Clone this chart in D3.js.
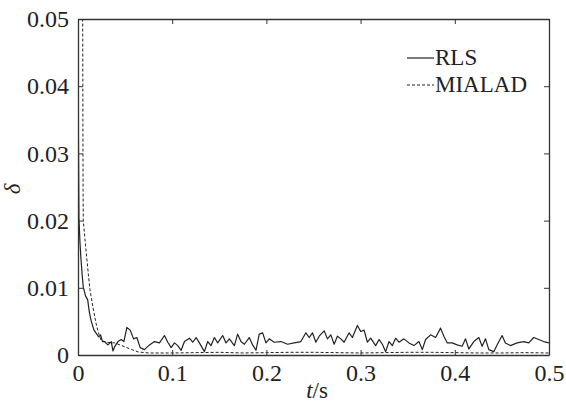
<!DOCTYPE html>
<html>
<head>
<meta charset="utf-8">
<script src="https://cdn.jsdelivr.net/npm/d3@7"></script>
<style>
  body { margin: 0; background: #fff; }
  svg { display: block; }
  text { font-family: "Liberation Serif", "Times New Roman", serif; fill: #222; }
</style>
</head>
<body>
<svg id="chart" width="566" height="403"></svg>
<script>
// tick labels
var xTicks = [0, 0.1, 0.2, 0.3, 0.4, 0.5];
var yTicks = [0, 0.01, 0.02, 0.03, 0.04, 0.05];

// RLS curve (t in s, delta)
var rlsT = [0, 0.0005, 0.001, 0.002, 0.003, 0.0045, 0.0056, 0.008, 0.0103, 0.012, 0.0138, 0.015, 0.017, 0.019, 0.022, 0.024, 0.026,
  0.028, 0.0318, 0.0353, 0.0371, 0.0388, 0.0424, 0.0459, 0.0487, 0.0519, 0.0554, 0.059, 0.0625, 0.066, 0.0706, 0.0759, 0.0812, 0.0865,
  0.0918, 0.0953, 0.0989, 0.1024, 0.1059, 0.1095, 0.113, 0.1183, 0.1218, 0.1254, 0.1289, 0.1342, 0.1377, 0.1412, 0.1448, 0.1483,
  0.1536, 0.1571, 0.1607, 0.166, 0.1695, 0.173, 0.1766, 0.1818, 0.1854, 0.1889, 0.1924, 0.196, 0.1995, 0.203, 0.2083, 0.2154,
  0.2225, 0.2295, 0.2366, 0.2419, 0.2454, 0.2489, 0.2525, 0.256, 0.2613, 0.2648, 0.2684, 0.2719, 0.2754, 0.279, 0.2825, 0.2878,
  0.2913, 0.2966, 0.3001, 0.3037, 0.3072, 0.3107, 0.316, 0.3196, 0.3231, 0.3266, 0.3302, 0.3337, 0.3372, 0.3407, 0.346, 0.3513,
  0.3566, 0.3619, 0.3655, 0.369, 0.3743, 0.3796, 0.3849, 0.3884, 0.392, 0.3972, 0.4025, 0.4078, 0.4114, 0.4149, 0.4202, 0.4255,
  0.429, 0.4326, 0.4361, 0.4414, 0.4449, 0.4502, 0.4537, 0.459, 0.4661, 0.4732, 0.4785, 0.4838, 0.489, 0.4944, 0.5];
var rlsV = [0.062, 0.032, 0.0205, 0.017, 0.0146, 0.0118, 0.0101, 0.0088, 0.0082, 0.0064, 0.0052, 0.0046, 0.0037, 0.0033, 0.0027, 0.0030, 0.0020,
  0.0020, 0.0015, 0.0020, 0.0006, 0.0012, 0.0020, 0.0023, 0.0020, 0.0041, 0.0037, 0.0024, 0.0026, 0.0011, 0.0008, 0.0015, 0.0020, 0.0018,
  0.0029, 0.0019, 0.0011, 0.0018, 0.0014, 0.0007, 0.0020, 0.0025, 0.0019, 0.0026, 0.0018, 0.0005, 0.0020, 0.0014, 0.0026, 0.0018,
  0.0029, 0.0018, 0.0024, 0.0014, 0.0031, 0.0020, 0.0016, 0.0026, 0.0015, 0.0007, 0.0031, 0.0033, 0.0018, 0.0024, 0.0019, 0.0020,
  0.0016, 0.0018, 0.0020, 0.0033, 0.0026, 0.0033, 0.0019, 0.0028, 0.0036, 0.0024, 0.0030, 0.0016, 0.0028, 0.0024, 0.0019, 0.0033,
  0.0026, 0.0044, 0.0035, 0.0037, 0.0019, 0.0025, 0.0014, 0.0023, 0.0016, 0.0005, 0.0020, 0.0014, 0.0025, 0.0019, 0.0024, 0.0018,
  0.0014, 0.0020, 0.0008, 0.0023, 0.0030, 0.0026, 0.0040, 0.0028, 0.0018, 0.0018, 0.0015, 0.0013, 0.0024, 0.0009, 0.0020, 0.0026,
  0.0013, 0.0024, 0.0008, 0.0005, 0.0015, 0.0029, 0.0018, 0.0014, 0.0018, 0.0020, 0.0018, 0.0026, 0.0023, 0.0020, 0.0018];

// MIALAD curve
var miaT = [0, 0.004, 0.005, 0.0052, 0.0054, 0.0056, 0.0074, 0.0092, 0.011, 0.0127, 0.016, 0.019, 0.0215, 0.0244, 0.03, 0.039,
  0.05, 0.057, 0.064, 0.075, 0.1, 0.125, 0.15, 0.175, 0.2, 0.225, 0.25, 0.275, 0.3, 0.325, 0.35, 0.375, 0.4, 0.425, 0.45, 0.475, 0.5];
var miaV = [0.12, 0.065, 0.05, 0.035, 0.0246, 0.0201, 0.0172, 0.0146, 0.0120, 0.0097, 0.0070, 0.0048, 0.0034, 0.0022, 0.0019, 0.0018,
  0.0012, 0.0008, 0.00045, 0.0003, 0.0003, 0.00035, 0.0004, 0.0003, 0.00035, 0.0004, 0.0004, 0.00035, 0.0003, 0.00035, 0.0004,
  0.0004, 0.00035, 0.0003, 0.0003, 0.00035, 0.0003];

var seriesNames = ["RLS", "MIALAD"];

function draw() {
  var svg = d3.select("#chart");
  var mLeft = 78, mRight = 549, mTop = 19, mBottom = 355;
  var serif = '"Liberation Serif", "Times New Roman", serif';

  var x = d3.scaleLinear().domain([0, 0.5]).range([mLeft, mRight]);
  var y = d3.scaleLinear().domain([0, 0.05]).range([mBottom, mTop]);

  svg.append("clipPath").attr("id", "clip")
    .append("rect").attr("x", mLeft).attr("y", mTop).attr("width", mRight - mLeft).attr("height", mBottom - mTop);

  var line = d3.line().x(function (d) { return x(d[0]); }).y(function (d) { return y(d[1]); });

  var plot = svg.append("g").attr("clip-path", "url(#clip)");
  plot.append("path").datum(miaT.map(function (t, i) { return [t, miaV[i]]; }))
    .attr("d", line).attr("fill", "none").attr("stroke", "#222")
    .attr("stroke-width", 1).attr("stroke-dasharray", "3,2");
  plot.append("path").datum(rlsT.map(function (t, i) { return [t, rlsV[i]]; }))
    .attr("d", line).attr("fill", "none").attr("stroke", "#222")
    .attr("stroke-width", 1.2).attr("stroke-linejoin", "round");

  // axes, inward ticks on all four sides
  var fmt = function (d) { return d === 0 ? "0" : String(+d.toFixed(2)); };
  var gx = svg.append("g").attr("transform", "translate(0," + mBottom + ")")
    .call(d3.axisBottom(x).tickValues(xTicks).tickSizeInner(-5).tickSizeOuter(0).tickPadding(9).tickFormat(fmt));
  var gxt = svg.append("g").attr("transform", "translate(0," + mTop + ")")
    .call(d3.axisTop(x).tickValues(xTicks).tickSizeInner(-5).tickSizeOuter(0).tickFormat(""));
  var gy = svg.append("g").attr("transform", "translate(" + mLeft + ",0)")
    .call(d3.axisLeft(y).tickValues(yTicks).tickSizeInner(-5).tickSizeOuter(0).tickPadding(9).tickFormat(fmt));
  var gyr = svg.append("g").attr("transform", "translate(" + mRight + ",0)")
    .call(d3.axisRight(y).tickValues(yTicks).tickSizeInner(-5).tickSizeOuter(0).tickFormat(""));

  [gx, gxt, gy, gyr].forEach(function (g) {
    g.attr("font-size", 24).attr("font-family", serif);
    g.select(".domain").attr("stroke", "#333").attr("stroke-width", 1.3);
    g.selectAll(".tick line").attr("stroke", "#333").attr("stroke-width", 1);
    g.selectAll("text").attr("fill", "#222");
  });

  // axis titles
  var xl = svg.append("text").attr("x", 317).attr("y", 398).attr("text-anchor", "middle").attr("font-size", 23);
  xl.append("tspan").attr("font-style", "italic").text("t");
  xl.append("tspan").text("/s");
  svg.append("text").attr("transform", "translate(20,189) rotate(-90)")
    .attr("text-anchor", "middle").attr("font-size", 23).attr("font-style", "italic").text("δ");

  // legend
  var lg = svg.append("g");
  seriesNames.forEach(function (name, i) {
    var ly = 58 + i * 27;
    lg.append("line").attr("x1", 407).attr("x2", 434).attr("y1", ly).attr("y2", ly)
      .attr("stroke", "#222").attr("stroke-width", i === 0 ? 1.2 : 1)
      .attr("stroke-dasharray", i === 0 ? null : "3,2");
    lg.append("text").attr("x", 435).attr("y", ly + 7).attr("font-size", 23).text(name);
  });
}

draw();
</script>
</body>
</html>
